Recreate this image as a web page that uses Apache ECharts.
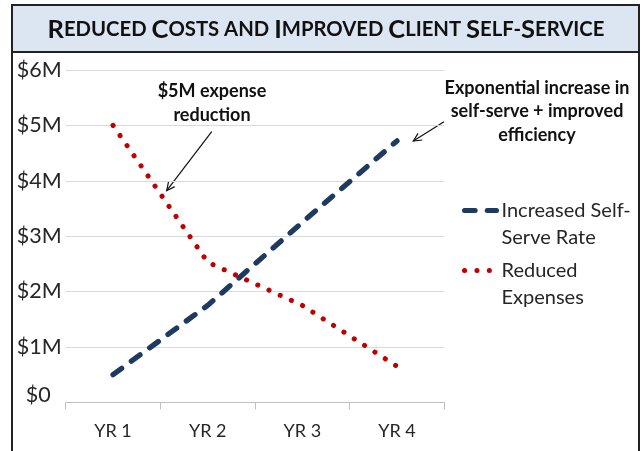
<!DOCTYPE html>
<html><head><meta charset="utf-8">
<script src="https://cdn.jsdelivr.net/npm/echarts@6/dist/echarts.min.js"></script>
<style>html,body{margin:0;padding:0;background:#fff}#c{width:641px;height:451px}</style>
</head><body><div id="c"></div>
<script>
// ---- data ----
const categories = ['YR 1', 'YR 2', 'YR 3', 'YR 4'];
const selfServeRate = [0.5, 1.75, 3.25, 4.72];      // $M
const reducedExpenses = [5.0, 2.53, 1.75, 0.65];    // $M
const yTickLabels = ['$0', '$1M', '$2M', '$3M', '$4M', '$5M', '$6M'];
const seriesNames = ['Increased Self-Serve Rate', 'Reduced Expenses'];
const legendLabels = ['Increased Self-\nServe Rate', 'Reduced\nExpenses'];
const titleText = '{b|R}{s|EDUCED }{b|C}{s|OSTS AND }{b|I}{s|MPROVED }{b|C}{s|LIENT }{b|S}{s|ELF-}{b|S}{s|ERVICE}';
const note1 = '$5M expense\nreduction';
const note2 = 'Exponential increase in\nself-serve + improved\nefficiency';

const FONT = 'Lato, "Open Sans", sans-serif';
const TXT = '#262626';

function arrow(x1, y1, x2, y2) {
  const a = Math.atan2(y2 - y1, x2 - x1), L = 9, w = 0.45;
  return [
    { type: 'line', shape: { x1, y1, x2, y2 }, style: { stroke: '#111', lineWidth: 1.2 } },
    { type: 'polyline', shape: { points: [
      [x2 - L * Math.cos(a - w), y2 - L * Math.sin(a - w)], [x2, y2],
      [x2 - L * Math.cos(a + w), y2 - L * Math.sin(a + w)]] },
      style: { stroke: '#111', lineWidth: 1.2, fill: null } }
  ];
}

const chart = echarts.init(document.getElementById('c'), null, { renderer: 'canvas' });
chart.setOption({
  backgroundColor: '#fff',
  animation: false,
  textStyle: { fontFamily: FONT },
  title: {
    text: titleText, left: 326, top: 29.5, textAlign: 'center', textVerticalAlign: 'middle', padding: 0,
    textStyle: { rich: {
      b: { fontFamily: FONT, fontWeight: 'bold', fontSize: 25.5, color: '#111' },
      s: { fontFamily: FONT, fontWeight: 'bold', fontSize: 20.3, color: '#111' }
    } }
  },
  grid: { left: 65.7, right: 196.7, top: 70, bottom: 48.7, containLabel: false },
  xAxis: {
    type: 'category', data: categories, boundaryGap: true,
    axisLine: { lineStyle: { color: '#bfbfbf', width: 1 } },
    axisTick: { show: true, length: 7, lineStyle: { color: '#bfbfbf' } },
    axisLabel: { color: TXT, fontSize: 18, margin: 20, fontFamily: FONT },
    splitLine: { show: false }
  },
  yAxis: {
    type: 'value', min: 0, max: 6, interval: 1,
    axisLine: { show: false }, axisTick: { show: false },
    splitLine: { lineStyle: { color: '#d9d9d9', width: 1 } },
    axisLabel: {
      color: TXT, fontSize: 21.5, margin: 4, fontFamily: FONT,
      formatter: v => v === 0 ? '{z|' + yTickLabels[0] + '}' : yTickLabels[v],
      rich: { z: { color: TXT, fontSize: 21.5, fontFamily: FONT, padding: [0, 11, 14, 0] } }
    }
  },
  legend: {
    orient: 'vertical', left: 462, top: 170, padding: 0, itemGap: -21,
    itemWidth: 32, itemHeight: 14,
    formatter: n => '\n' + legendLabels[seriesNames.indexOf(n)],
    textStyle: { color: TXT, fontSize: 20, lineHeight: 27, fontFamily: FONT },
    itemStyle: { color: 'rgba(0,0,0,0)', borderColor: 'rgba(0,0,0,0)', borderWidth: 0, opacity: 0 },
    data: [
      { name: seriesNames[0], lineStyle: { width: 5, color: '#1f3a60', type: [10.7, 12], cap: 'round' } },
      { name: seriesNames[1], lineStyle: { width: 5, color: '#c00000', type: [0.1, 12.3], cap: 'round' } }
    ]
  },
  series: [
    { name: seriesNames[0], type: 'line', data: selfServeRate, symbol: 'none', smooth: false,
      lineStyle: { color: '#1f3a60', width: 5.3, type: [10.7, 12], cap: 'round' }, itemStyle: { color: '#1f3a60' } },
    { name: seriesNames[1], type: 'line', data: reducedExpenses, symbol: 'none', smooth: false,
      lineStyle: { color: '#c00000', width: 5, type: [0.1, 12.2], cap: 'round' }, itemStyle: { color: '#c00000' } }
  ],
  graphic: [
    { type: 'rect', z: -10, shape: { x: 12, y: 5, width: 627, height: 47 }, style: { fill: '#dce6f2', stroke: '#222', lineWidth: 2 } },
    { type: 'line', shape: { x1: 12, y1: 5, x2: 12, y2: 460 }, style: { stroke: '#222', lineWidth: 2 } },
    { type: 'line', shape: { x1: 639, y1: 5, x2: 639, y2: 460 }, style: { stroke: '#222', lineWidth: 2 } },
    { type: 'text', x: 212, y: 103, style: { text: note1, align: 'center', verticalAlign: 'middle', fontFamily: FONT, fontWeight: 'bold', fontSize: 18, lineHeight: 23.5, fill: '#111' } },
    { type: 'text', x: 537, y: 111.5, style: { text: note2, align: 'center', verticalAlign: 'middle', fontFamily: FONT, fontWeight: 'bold', fontSize: 18, lineHeight: 23.5, fill: '#111' } },
    ...arrow(211.7, 131.7, 166.7, 190.7),
    ...arrow(444, 121.7, 413.3, 141)
  ]
});
</script></body></html>
